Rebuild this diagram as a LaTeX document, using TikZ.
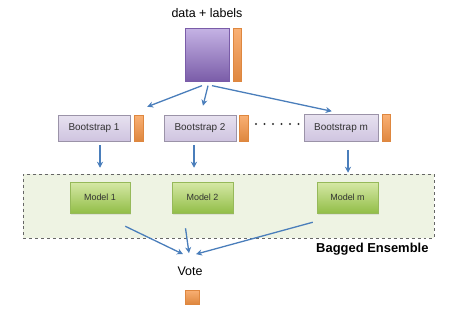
\documentclass[tikz,border=0pt]{standalone}
\usepackage{fontspec}
\setmainfont{Liberation Sans}
\usetikzlibrary{arrows.meta,shadows}

\definecolor{flow}{RGB}{74,126,187}
\definecolor{lab}{RGB}{247,150,70}
\definecolor{samp}{RGB}{207,196,224}

\begin{document}
\begin{tikzpicture}[x=1bp,y=-1bp,
    arr/.style={draw=flow,line width=1.3bp,-{Stealth[length=6bp,width=6bp]}},
    labbar/.style={rectangle,inner sep=0,top color=lab!75!white,bottom color=lab!90!black,draw=lab!90!black,line width=0.3bp},
    sampbox/.style={rectangle,inner sep=0,minimum width=72bp,minimum height=26bp,
        top color=samp!50!white,bottom color=samp,draw=samp!75!black,line width=0.5bp,
        font=\fontsize{10}{12}\selectfont,text=black!80},
    modelbox/.style={rectangle,inner sep=0,minimum width=61bp,minimum height=31bp,
        top color={rgb,255:red,214;green,232;blue,166},bottom color={rgb,255:red,146;green,190;blue,72},
        draw={rgb,255:red,150;green,185;blue,90},line width=0.5bp,
        drop shadow={opacity=0.15,shadow xshift=1bp,shadow yshift=-1.5bp},
        font=\fontsize{9}{11}\selectfont,text=black!80}]
    \useasboundingbox (0,0) rectangle (458,313);

    % bagged ensemble region
    \node[rectangle,draw=black!60,dashed,line width=0.5bp,fill={rgb,255:red,238;green,243;blue,227},
        minimum width=411bp,minimum height=64bp,inner sep=0] (ens) at (228.5,206) {};
    \node[anchor=east,font=\fontsize{13}{15}\selectfont\bfseries] (enslabel) at (432,249) {Bagged Ensemble};

    % training data
    \node[font=\fontsize{12.5}{15}\selectfont] (title) at (207,13) {data + labels};
    \node[rectangle,inner sep=0,minimum width=44bp,minimum height=53bp,
        top color={rgb,255:red,196;green,178;blue,228},bottom color={rgb,255:red,122;green,92;blue,168},
        draw={rgb,255:red,122;green,92;blue,168},line width=0.3bp] (data) at (207,55) {};
    \node[labbar,minimum width=8bp,minimum height=53bp] (datalab) at (237,55) {};

    % bootstrap samples
    \node[sampbox] (b1) at (94,128) {Bootstrap 1};
    \node[labbar,minimum width=8.5bp,minimum height=26bp] (lab1) at (138.5,128) {};
    \node[sampbox] (b2) at (200,128) {Bootstrap 2};
    \node[labbar,minimum width=8.5bp,minimum height=26bp] (lab2) at (243.5,128) {};
    \node[sampbox,minimum width=74bp,minimum height=27bp] (bm) at (341,128) {Bootstrap m};
    \node[labbar,minimum width=8bp,minimum height=27bp] (labm) at (386,128) {};
    \foreach \i in {0,...,5}
        \fill[black!80] (256+\i*8.5,124) circle (1.1bp);

    % models
    \node[modelbox,minimum width=60bp] (m1) at (100,197.5) {Model 1};
    \node[modelbox] (m2) at (202.5,197.5) {Model 2};
    \node[modelbox] (mm) at (347.5,197.5) {Model m};

    % vote
    \node[font=\fontsize{12.5}{15}\selectfont] (vote) at (190,271) {Vote};
    \node[labbar,minimum width=14bp,minimum height=14bp] (votelab) at (192,297) {};

    \draw[arr] ([xshift=-5bp,yshift=-4bp]data.south) -- ([xshift=17bp,yshift=8bp]b1.north east);
    \draw[arr] ([xshift=1bp,yshift=-4bp]data.south) -- ([xshift=3bp,yshift=9bp]b2.north);
    \draw[arr] ([xshift=5bp,yshift=-4bp]data.south) -- ([xshift=28bp,yshift=3bp]bm.north west);

    \draw[arr] ([xshift=6bp,yshift=-4bp]b1.south) -- ([xshift=6bp,yshift=6bp]b1.south |- ens.north);
    \draw[arr] ([xshift=-6bp,yshift=-4bp]b2.south) -- ([xshift=-6bp,yshift=6bp]b2.south |- ens.north);
    \draw[arr] ([xshift=7bp,yshift=-8bp]bm.south) -- ([xshift=7bp,yshift=1bp]bm.south |- ens.north);

    \draw[arr] ([xshift=-5bp,yshift=-13bp]m1.south east) -- ([xshift=-7bp,yshift=9bp]vote.north);
    \draw[arr] ([xshift=-17bp,yshift=-15bp]m2.south) -- ([xshift=-1bp,yshift=10bp]vote.north);
    \draw[arr] ([xshift=-4bp,yshift=-9bp]mm.south west) -- ([xshift=6bp,yshift=9bp]vote.north);
\end{tikzpicture}
\end{document}
